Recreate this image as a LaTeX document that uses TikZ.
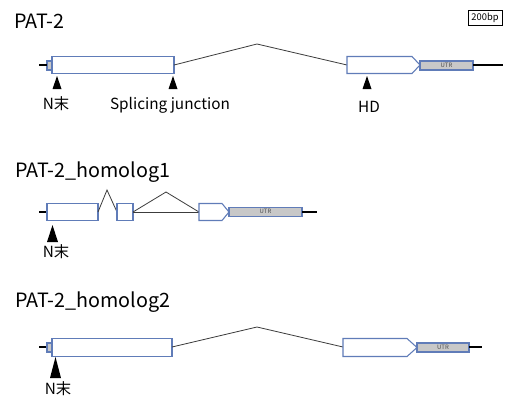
\documentclass[tikz,border=0pt]{standalone}
\usepackage{fontspec}
\setmainfont{Noto Sans CJK JP}
\usetikzlibrary{shapes.symbols,shapes.geometric}
\definecolor{exonblue}{RGB}{96,124,184}
\definecolor{utrgray}{RGB}{200,200,200}
\definecolor{intron}{RGB}{60,60,60}
\tikzset{
  exon/.style={draw=exonblue, line width=0.8pt, fill=white},
  utr/.style={draw=exonblue, line width=0.8pt, fill=utrgray},
  stub/.style={line width=1.3pt, black},
  intronline/.style={line width=0.6pt, intron},
  marker/.style={fill=black, draw=none},
  title/.style={anchor=base west, inner sep=0pt, font=\fontsize{14.8}{16}\selectfont},
  lab/.style={inner sep=0pt, font=\fontsize{11.5}{12}\selectfont},
  utrtext/.style={font=\fontsize{4.5}{5}\selectfont, text=black!70, inner sep=0pt},
}
\begin{document}
\begin{tikzpicture}[x=0.75pt,y=-0.75pt]
\useasboundingbox (0,0) rectangle (509,400);
\fill[white] (0,0) rectangle (509,400);

% ---------- Row 1: PAT-2 ----------
\node[title] (t1) at (14,28) {PAT-2};
\node[draw=black, line width=0.6pt, minimum width=34*0.75pt, minimum height=15*0.75pt, inner sep=0pt, font=\fontsize{7}{7}\selectfont] (scale) at (485,17.5) {200bp};

\coordinate (a1s) at (39,65);
\draw[utr] (47,61) rectangle (52,70);
\draw[stub] (a1s) -- (47,65);
\draw[exon] (52,56.5) rectangle (174,73.5);
\coordinate (a1e) at (174,65);
\coordinate (a1p) at (257,44);
\coordinate (a2s) at (347,65);
\draw[intronline] (a1e) -- (a1p) -- (a2s);
\draw[exon] (347,56.5) -- (412,56.5) -- (420,65) -- (412,73.5) -- (347,73.5) -- cycle;
\draw[utr] (420,61) rectangle (473,70);
\node[utrtext] (u1) at (446.5,65.5) {UTR};
\coordinate (r1e) at (503,65);
\draw[stub] (473,65) -- (r1e);

\draw[marker] (57,76) -- (61.5,89) -- (52.5,89) -- cycle;
\draw[marker] (173,76) -- (177.5,89) -- (168.5,89) -- cycle;
\draw[marker] (367,76) -- (371.5,89) -- (362.5,89) -- cycle;
\node[lab] (n1) at (56,104) {N末};
\node[lab] (sj) at (170,105) {Splicing junction};
\node[lab] (hd) at (369,106.5) {HD};

% ---------- Row 2: PAT-2_homolog1 ----------
\node[title] (t2) at (15,177) {PAT-2\_homolog1};
\draw[stub] (39,212) -- (47,212);
\draw[exon] (47,203.5) rectangle (98,220.5);
\draw[intronline] (98,212) -- (107,190) -- (117,212);
\draw[exon] (117,203.5) rectangle (133,220.5);
\draw[intronline] (133,212) -- (166,192) -- (199,212);
\draw[intronline] (133,212.5) -- (199,212.5);
\draw[exon] (199,203.5) -- (222,203.5) -- (229,212) -- (222,220.5) -- (199,220.5) -- cycle;
\draw[utr] (229,207.5) rectangle (302,216.5);
\node[utrtext] (u2) at (265.5,211) {UTR};
\draw[stub] (302,212) -- (317,212);
\draw[marker] (52.5,225) -- (58,242) -- (47,242) -- cycle;
\node[lab] (n2) at (56,252) {N末};

% ---------- Row 3: PAT-2_homolog2 ----------
\node[title] (t3) at (15,307) {PAT-2\_homolog2};
\draw[stub] (39,347) -- (47,347);
\draw[utr] (47,343) rectangle (52,352);
\draw[exon] (52,338.5) rectangle (172,356.5);
\draw[intronline] (172,347) -- (257,327) -- (343,347);
\draw[exon] (343,338.5) -- (407,338.5) -- (417,347.5) -- (407,356.5) -- (343,356.5) -- cycle;
\draw[utr] (417,343) rectangle (469,352);
\node[utrtext] (u3) at (443,347) {UTR};
\draw[stub] (469,347) -- (482,347);
\draw[marker] (55.5,357) -- (61,378) -- (50,378) -- cycle;
\node[lab] (n3) at (58,389) {N末};
\end{tikzpicture}
\end{document}
